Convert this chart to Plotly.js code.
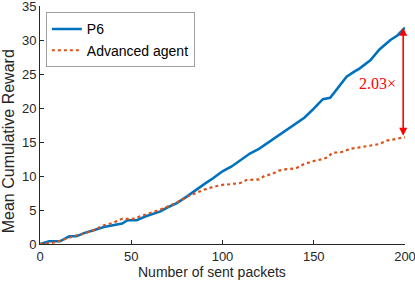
<!DOCTYPE html>
<html>
<head>
<meta charset="utf-8">
<script src="https://cdn.plot.ly/plotly-3.0.1.min.js"></script>
<style>html,body{margin:0;padding:0;background:#fff;}#chart{width:415px;height:284px;}</style>
</head>
<body>
<div id="chart"></div>
<script>
const p6X = [0,5,11,14,16,20,24,29,35,40,45,48,53,58,63,66,70,75,80,85,90,95,100,105,110,115,120,125,130,135,140,145,150,155,159,163,168,172,175,181,186,192,196,200];
const p6Y = [0,0.4,0.4,0.8,1.13,1.13,1.6,2.0,2.5,2.75,3.0,3.5,3.5,4.07,4.5,4.8,5.4,6.0,6.9,7.9,8.8,9.7,10.7,11.4,12.4,13.3,14.0,14.9,15.9,16.7,17.6,18.6,19.9,21.3,21.5,22.9,24.6,25.3,25.8,27.0,28.6,30.0,30.7,31.8];
const advX = [0,5,9,13,18,24,29,35,40,45,51,55,60,66,70,75,80,85,90,95,100,105,110,113,120,123,127,131,135,140,145,150,155,158,160,165,170,175,181,186,190,195,200];
const advY = [0,0.1,0.3,0.65,1.13,1.5,2.0,2.75,3.1,3.7,3.7,4.07,4.5,5.06,5.5,6.1,6.9,7.5,8.0,8.4,8.7,8.8,9.0,9.4,9.5,10.0,10.3,10.8,11.0,11.1,11.8,12.2,12.5,12.8,13.4,13.5,14.0,14.2,14.5,14.7,15.2,15.4,15.7];
const seriesNames = ["P6", "Advanced agent"];
const ratioLabel = "2.03×";
const xTitle = "Number of sent packets";
const yTitle = "Mean Cumulative Reward";
const xTicks = [0,50,100,150,200];
const yTicks = [0,5,10,15,20,25,30,35];

const axisColor = "#262626";
const fam = "Liberation Sans, Arial, sans-serif";

const traces = [
  {x: p6X, y: p6Y, name: seriesNames[0], type: "scatter", mode: "lines",
   line: {color: "#0072BD", width: 2.6}},
  {x: advX, y: advY, name: seriesNames[1], type: "scatter", mode: "lines",
   line: {color: "#D95319", width: 2.2, dash: "dot"}}
];

const lastP6 = p6Y[p6Y.length-1];
const lastAdv = advY[advY.length-1];

const axisCommon = {
  ticks: "inside", ticklen: 4, tickcolor: axisColor, showline: true,
  linecolor: axisColor, linewidth: 1, showgrid: false, zeroline: false,
  mirror: false, ticklabeloverflow: "allow",
  tickfont: {family: fam, size: 13, color: axisColor}
};

const layout = {
  width: 415, height: 284,
  margin: {l: 40, r: 10, t: 6, b: 40},
  paper_bgcolor: "#fff", plot_bgcolor: "#fff",
  font: {family: fam, size: 13, color: axisColor},
  showlegend: true,
  legend: {x: 0.016, y: 0.973, xanchor: "left", yanchor: "top",
           bgcolor: "#fff", bordercolor: "#a0a0a0", borderwidth: 1,
           font: {family: fam, size: 14, color: "#000"},
           tracegroupgap: 0, itemwidth: 30},
  xaxis: Object.assign({range: [0, 200], tickvals: xTicks}, axisCommon),
  yaxis: Object.assign({range: [0, 35], tickvals: yTicks}, axisCommon),
  annotations: [
    {x: 199, y: lastP6, ax: 199, ay: lastAdv, xref: "x", yref: "y", axref: "x", ayref: "y",
     text: "", showarrow: true, arrowhead: 2, arrowside: "end+start", arrowsize: 1,
     arrowwidth: 1.6, arrowcolor: "#ff0000", standoff: 0, startstandoff: 0},
    {x: 196, y: 23.6, xref: "x", yref: "y", text: ratioLabel, showarrow: false,
     xanchor: "right", yanchor: "middle",
     font: {family: "Liberation Serif, Times New Roman, serif", size: 16, color: "#ff0000"}},
    {x: 0.471, y: -0.119, xref: "paper", yref: "paper", text: xTitle, showarrow: false,
     xanchor: "center", yanchor: "middle", font: {family: fam, size: 14, color: axisColor}},
    {x: -0.0877, y: 0.4315, xref: "paper", yref: "paper", text: yTitle, showarrow: false,
     textangle: -90, xanchor: "center", yanchor: "middle", font: {family: fam, size: 16, color: axisColor}}
  ]
};

Plotly.newPlot("chart", traces, layout, {displayModeBar: false, staticPlot: true});
</script>
</body>
</html>
